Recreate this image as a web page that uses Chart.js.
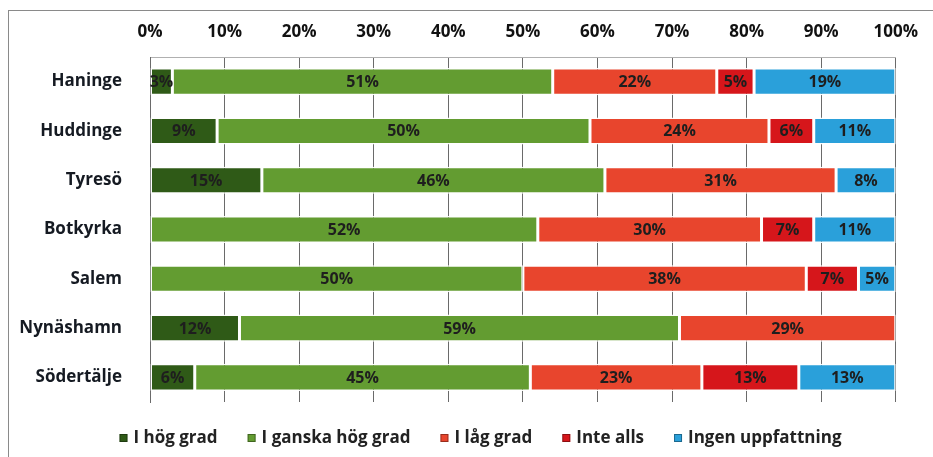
<!DOCTYPE html>
<html>
<head>
<meta charset="utf-8">
<script src="https://cdn.jsdelivr.net/npm/chart.js@4"></script>
<style>
body{margin:0;background:#fff}
#frame{position:absolute;left:8px;top:10px;width:1000px;height:1000px;border:1px solid #8a8a8a}
#wrap{position:absolute;left:0;top:0;width:933px;height:457px}
</style>
</head>
<body>
<div id="frame"></div>
<div id="wrap"><canvas id="kommun"></canvas></div>
<script>
// kommuner, uppifrån och ner
const kommuner = ['Haninge','Huddinge','Tyresö','Botkyrka','Salem','Nynäshamn','Södertälje']
// andel svar i procent
const hogGrad   = [3, 9, 15, 0, 0, 12, 6]
const ganskaHog = [51, 50, 46, 52, 50, 59, 45]
const lagGrad   = [22, 24, 31, 30, 38, 29, 23]
const inteAlls  = [5, 6, 0, 7, 7, 0, 13]
const ingenUppf = [19, 11, 8, 11, 5, 0, 13]

const fontName = '"Open Sans"'

// skriver procenttalet mitt i varje stapeldel
const barLabels = {
  id: 'barLabels',
  afterDatasetsDraw(chart){
    const ctx = chart.ctx
    ctx.save()
    ctx.font = 'bold 16px ' + fontName
    ctx.textAlign = 'center'
    ctx.textBaseline = 'middle'
    ctx.fillStyle = '#1e1e1e'
    chart.data.datasets.forEach((ds, i) => {
      chart.getDatasetMeta(i).data.forEach((bar, j) => {
        const v = ds.data[j]
        if (!v) return
        ctx.fillText(v + '%', (bar.x + bar.base) / 2, bar.y + 1)
      })
    })
    ctx.restore()
  }
}

// egen legend under diagrammet (tätare än den inbyggda)
const bottomLegend = {
  id: 'bottomLegend',
  afterDraw(chart){
    const ctx = chart.ctx
    const y = 438
    const box = 8, gapText = 6, gapItem = 30
    ctx.save()
    ctx.font = 'bold 17px ' + fontName
    ctx.textBaseline = 'middle'
    const items = chart.data.datasets.map(ds => ({
      text: ds.label, color: ds.backgroundColor, w: ctx.measureText(ds.label).width
    }))
    let total = 0
    items.forEach((it, i) => { total += box + gapText + it.w + (i ? gapItem : 0) })
    let x = (chart.width - total) / 2 + 14
    items.forEach(it => {
      ctx.fillStyle = it.color
      ctx.fillRect(x, y - box / 2, box, box)
      ctx.strokeStyle = 'rgba(0,0,0,0.35)'
      ctx.lineWidth = 1
      ctx.strokeRect(x + 0.5, y - box / 2 + 0.5, box - 1, box - 1)
      ctx.fillStyle = '#222'
      ctx.fillText(it.text, x + box + gapText, y)
      x += box + gapText + it.w + gapItem
    })
    ctx.restore()
  }
}

function serie(label, data, color){
  return {
    label: label,
    data: data,
    backgroundColor: color,
    borderColor: 'rgba(255,255,255,0.95)',
    borderWidth: 1.5,
    borderSkipped: false,
    barPercentage: 0.55,
    categoryPercentage: 1
  }
}

const ctx = document.getElementById('kommun').getContext('2d')
const graf = new Chart(ctx, {
  type: 'bar',
  data: {
    labels: kommuner,
    datasets: [
      serie('I hög grad', hogGrad, '#2f5a17'),
      serie('I ganska hög grad', ganskaHog, '#639c31'),
      serie('I låg grad', lagGrad, '#e8452d'),
      serie('Inte alls', inteAlls, '#d6161b'),
      serie('Ingen uppfattning', ingenUppf, '#2aa0da')
    ]
  },
  options: {
    indexAxis: 'y',
    responsive: true,
    maintainAspectRatio: false,
    animation: false,
    layout: { padding: { left: 0, right: 36, top: 0, bottom: 55 } },
    plugins: {
      legend: { display: false },
      tooltip: { enabled: false }
    },
    scales: {
      x: {
        position: 'top',
        stacked: true,
        min: 0,
        max: 100,
        ticks: {
          stepSize: 10,
          padding: 15,
          color: '#111',
          font: { family: fontName, size: 17, weight: 'bold' },
          callback: v => v + '%'
        },
        grid: { color: '#6a6a6a', lineWidth: 1, drawTicks: false },
        border: { color: '#b0b0b0' },
        afterFit(scale){ scale.height = 57 }
      },
      y: {
        stacked: true,
        ticks: {
          padding: 20,
          color: '#151a22',
          font: { family: fontName, size: 17, weight: 'bold' }
        },
        grid: { display: false },
        border: { color: '#6a6a6a' },
        afterFit(scale){ scale.width = 150 }
      }
    }
  },
  plugins: [barLabels, bottomLegend]
})
</script>
</body>
</html>
